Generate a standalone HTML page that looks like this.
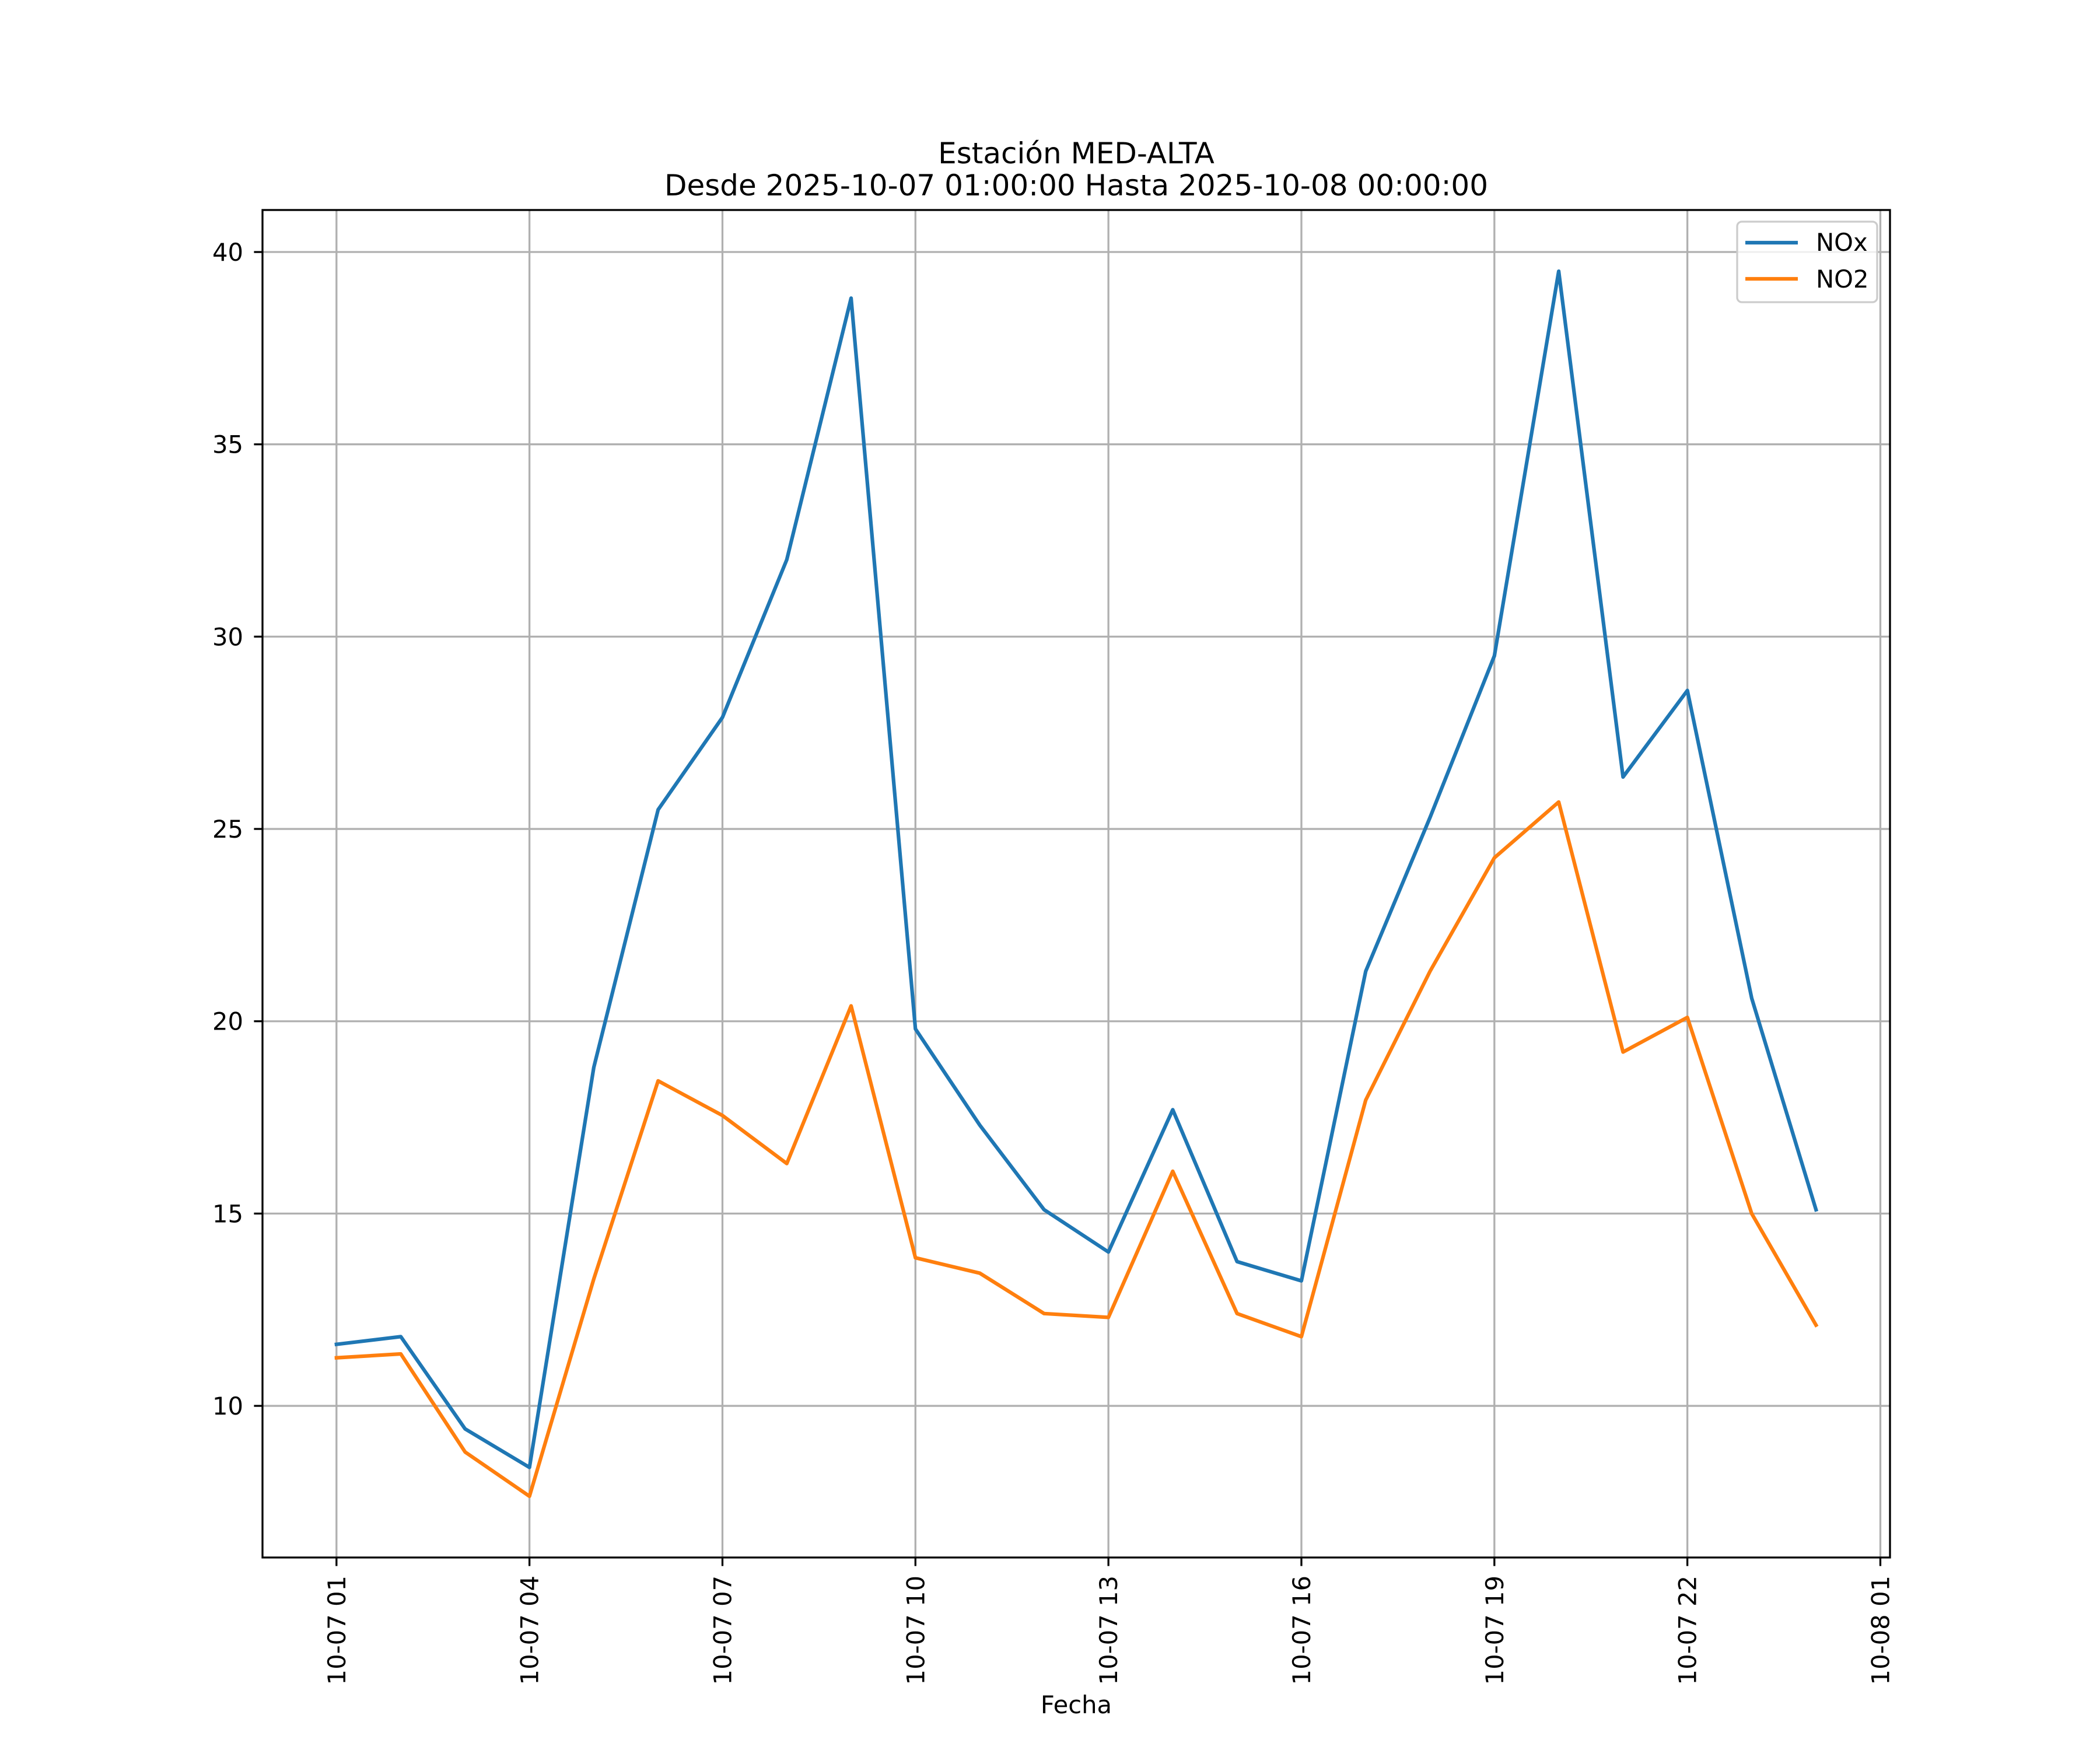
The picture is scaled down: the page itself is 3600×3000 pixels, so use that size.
<!DOCTYPE html>
<html><head><meta charset="utf-8"><style>html,body{margin:0;padding:0;background:#fff}svg{display:block}text{font-family:"DejaVu Sans","Liberation Sans",sans-serif;fill:#000}</style></head>
<body>
<svg id="chart" width="3600" height="3000" viewBox="0 0 3600 3000" xmlns="http://www.w3.org/2000/svg">
<rect width="3600" height="3000" fill="#fff"/>
<g id="grid"></g>
<g id="series"></g>
<rect x="450" y="360" width="2790" height="2310" fill="none" stroke="#000" stroke-width="3.3"/>
<g id="axes"></g>
<text x="1845" y="280" text-anchor="middle" font-size="50">Estación MED-ALTA</text>
<text x="1845" y="335" text-anchor="middle" font-size="50">Desde 2025-10-07 01:00:00 Hasta 2025-10-08 00:00:00</text>
<text x="1845" y="2937" text-anchor="middle" font-size="41.7">Fecha</text>
<g>
<rect x="2978" y="380" width="240" height="138" rx="8" fill="#fff" fill-opacity="0.8" stroke="#cccccc" stroke-width="3.3"/>
<line x1="2992" y1="416" x2="3082" y2="416" stroke="#1f77b4" stroke-width="6.25"/>
<text x="3113" y="430" font-size="41.7">NOx</text>
<line x1="2992" y1="478" x2="3082" y2="478" stroke="#ff7f0e" stroke-width="6.25"/>
<text x="3113" y="493" font-size="41.7">NO2</text>
</g>
</svg>
<script>
const hours=[1,2,3,4,5,6,7,8,9,10,11,12,13,14,15,16,17,18,19,20,21,22,23,24];
const noxValues=[11.6,11.8,9.4,8.4,18.8,25.5,27.9,32.0,38.8,19.8,17.3,15.1,14.0,17.7,13.75,13.25,21.3,25.3,29.5,39.5,26.35,28.6,20.6,15.1];
const no2Values=[11.25,11.35,8.8,7.65,13.3,18.45,17.55,16.3,20.4,13.85,13.45,12.4,12.3,16.1,12.4,11.8,17.95,21.3,24.25,25.7,19.2,20.1,15.0,12.1];
const yTicks=[10,15,20,25,30,35,40];
const xTickHours=[1,4,7,10,13,16,19,22,25];
const xTickLabels=["10-07 01","10-07 04","10-07 07","10-07 10","10-07 13","10-07 16","10-07 19","10-07 22","10-08 01"];
const NS="http://www.w3.org/2000/svg";
const L=450,R=3240,T=360,B=2670;
const allV=noxValues.concat(no2Values);
const vmin=Math.min(...allV),vmax=Math.max(...allV),vm=(vmax-vmin)*0.05;
const y0=vmin-vm,y1=vmax+vm;
const h0=Math.min(...hours),h1=Math.max(...hours),hm=(h1-h0)*0.05;
const x0=h0-hm,x1=h1+hm;
const xs=h=>L+(h-x0)/(x1-x0)*(R-L);
const ys=v=>B-(v-y0)/(y1-y0)*(B-T);
function mk(tag,attrs,parent){const e=document.createElementNS(NS,tag);for(const k in attrs)e.setAttribute(k,attrs[k]);parent.appendChild(e);return e;}
const grid=document.getElementById('grid'),axes=document.getElementById('axes'),series=document.getElementById('series');
yTicks.forEach(v=>{
 const g=mk('line',{x1:L,x2:R,y1:ys(v),y2:ys(v),stroke:'#b0b0b0','stroke-width':3.3},grid);
 
 
 mk('line',{x1:L-14.6,x2:L,y1:ys(v),y2:ys(v),stroke:'#000','stroke-width':3.3},axes);
 const t=mk('text',{x:417,y:ys(v)+15,'text-anchor':'end','font-size':41.7},axes);
 t.textContent=v;
 
 
});
xTickHours.forEach((h,i)=>{
 const g=mk('line',{x1:xs(h),x2:xs(h),y1:T,y2:B,stroke:'#b0b0b0','stroke-width':3.3},grid);
 
 
 mk('line',{x1:xs(h),x2:xs(h),y1:B,y2:B+14.6,stroke:'#000','stroke-width':3.3},axes);
 const t=mk('text',{x:0,y:0,'text-anchor':'end','font-size':41.7,transform:`translate(${xs(h)+15},2701) rotate(-90)`},axes);
 t.textContent=xTickLabels[i];
 
 
});
function line(vals,color,name){
 const p=mk('polyline',{points:vals.map((v,i)=>xs(hours[i])+','+ys(v)).join(' '),fill:'none',stroke:color,'stroke-width':6.25,'stroke-linejoin':'round','stroke-linecap':'square'},series);
 
 
}
line(noxValues,'#1f77b4','nox-line');
line(no2Values,'#ff7f0e','no2-line');
</script>
</body></html>
